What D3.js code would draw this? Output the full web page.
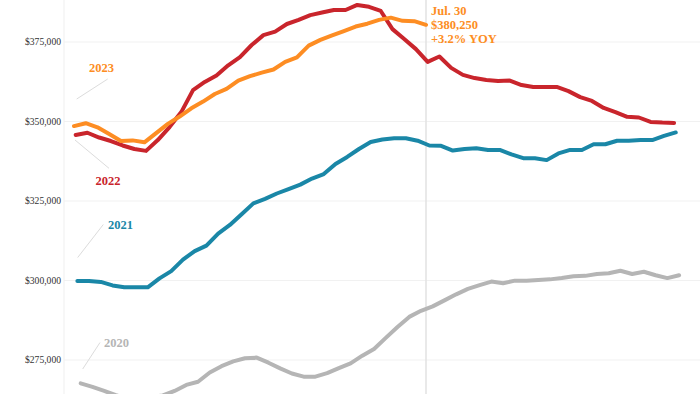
<!DOCTYPE html>
<html>
<head>
<meta charset="utf-8">
<script src="https://cdn.jsdelivr.net/npm/d3@7"></script>
<style>
  body { margin: 0; background: #fff; }
  svg { display: block; }
</style>
</head>
<body>
<script>
// weekly median list price, day offset of the first week from Jan 1
const yTicks = [275000, 300000, 325000, 350000, 375000];

const v2020 = [267500, 266400, 265100, 263800, 262600, 262600, 263200, 263700, 265100, 267000, 268000, 270900, 272900, 274400, 275400, 275600, 274000, 272200, 270600, 269600, 269600, 270700, 272300, 273800, 276200, 278300, 281800, 285200, 288400, 290300, 291700, 293600, 295500, 297200, 298400, 299500, 299000, 299800, 299800, 300000, 300200, 300600, 301200, 301300, 301900, 302100, 302900, 301900, 302600, 301500, 300600, 301500];
const v2021 = [299700, 299700, 299400, 298300, 297700, 297700, 297700, 300500, 302800, 306400, 309100, 310800, 314600, 317300, 320700, 324100, 325500, 327200, 328600, 330000, 331900, 333300, 336500, 338700, 341200, 343400, 344200, 344600, 344600, 343800, 342300, 342200, 340700, 341200, 341400, 340900, 340900, 339500, 338300, 338300, 337700, 339800, 340900, 340900, 342700, 342700, 343800, 343800, 344000, 344000, 345300, 346400];
const v2022 = [345600, 346300, 344800, 343700, 342300, 341200, 340600, 344000, 348100, 352800, 359700, 362300, 364300, 367500, 370100, 373900, 377000, 378100, 380500, 381800, 383300, 384100, 384900, 384900, 386500, 385900, 384600, 378900, 375800, 372600, 368600, 370300, 366700, 364500, 363500, 362900, 362600, 362700, 361300, 360700, 360700, 360700, 359400, 357500, 356300, 354100, 352800, 351300, 351100, 349700, 349500, 349400];
const v2023 = [348400, 349300, 348000, 345900, 343700, 343900, 343300, 346200, 349100, 351400, 354000, 356100, 358500, 360100, 362700, 364100, 365200, 366200, 368600, 370000, 373700, 375500, 376900, 378300, 379700, 380600, 381800, 382500, 381500, 381400, 380250];

const years = ["2020", "2021", "2022", "2023"];
const startDay = [4, 2, 1, 0];
const colors = ["#b5b5b5", "#1a87a7", "#c9252c", "#fd8d23"];
const seriesValues = [v2020, v2021, v2022, v2023];

const markerDay = 210; // Jul. 30
const callout = ["Jul. 30", "$380,250", "+3.2% YOY"];

const W = 700, H = 394;
const serif = "'Liberation Serif', 'Times New Roman', serif";

const x = d3.scaleLinear().domain([0, markerDay]).range([74, 426]);
const y = d3.scaleLinear().domain([275000, 375000]).range([359.5, 41.5]);

const svg = d3.select("body").append("svg")
    .attr("width", W).attr("height", H)
    .attr("xmlns", "http://www.w3.org/2000/svg");

// gridlines + labels
const yAxis = svg.append("g")
    .attr("transform", "translate(64,0)")
    .call(d3.axisLeft(y).tickValues(yTicks).tickSize(-(W - 64)).tickPadding(3)
        .tickFormat(d => "$" + d3.format(",")(d)));
yAxis.select(".domain").remove();
yAxis.selectAll(".tick line").attr("stroke", "#f1f1f1").attr("stroke-width", 1);
yAxis.selectAll(".tick text")
    .attr("fill", "#333").attr("font-family", serif).attr("font-size", 9.6);

svg.append("line")
    .attr("x1", 64).attr("x2", 64).attr("y1", 0).attr("y2", H)
    .attr("stroke", "#efefef").attr("stroke-width", 1);

svg.append("line")
    .attr("x1", x(markerDay)).attr("x2", x(markerDay)).attr("y1", 0).attr("y2", H)
    .attr("stroke", "#e2e2e2").attr("stroke-width", 1.5);

const line = d3.line()
    .x(d => x(d.day))
    .y(d => y(d.value));

seriesValues.forEach((vals, k) => {
    const pts = vals.map((v, i) => ({ day: startDay[k] + i * 7, value: v }));
    svg.append("path")
        .datum(pts)
        .attr("d", line)
        .attr("fill", "none")
        .attr("stroke", colors[k])
        .attr("stroke-width", 4)
        .attr("stroke-linejoin", "round")
        .attr("stroke-linecap", "round");
});

// year labels with leader lines
const labelPos = [
    { tx: 104, ty: 347, l: [82.7, 369, 100, 342.5] },
    { tx: 108, ty: 229, l: [77.7, 257.5, 103.3, 224.5] },
    { tx: 95.5, ty: 185, l: [75, 140, 109, 168.3] },
    { tx: 89, ty: 72, l: [76.7, 99, 107.7, 79] }
];
years.forEach((yr, k) => {
    const p = labelPos[k];
    svg.append("line")
        .attr("x1", p.l[0]).attr("y1", p.l[1]).attr("x2", p.l[2]).attr("y2", p.l[3])
        .attr("stroke", "#dcdcdc").attr("stroke-width", 1);
    svg.append("text")
        .attr("x", p.tx).attr("y", p.ty)
        .attr("font-family", serif).attr("font-weight", "bold").attr("font-size", 12.5)
        .attr("fill", colors[k])
        .text(yr);
});

svg.append("g").selectAll("text")
    .data(callout)
    .join("text")
    .attr("x", x(markerDay) + 5)
    .attr("y", (d, i) => 15 + i * 14)
    .attr("font-family", serif).attr("font-weight", "bold").attr("font-size", 12.5)
    .attr("fill", colors[3])
    .text(d => d);
</script>
</body>
</html>
